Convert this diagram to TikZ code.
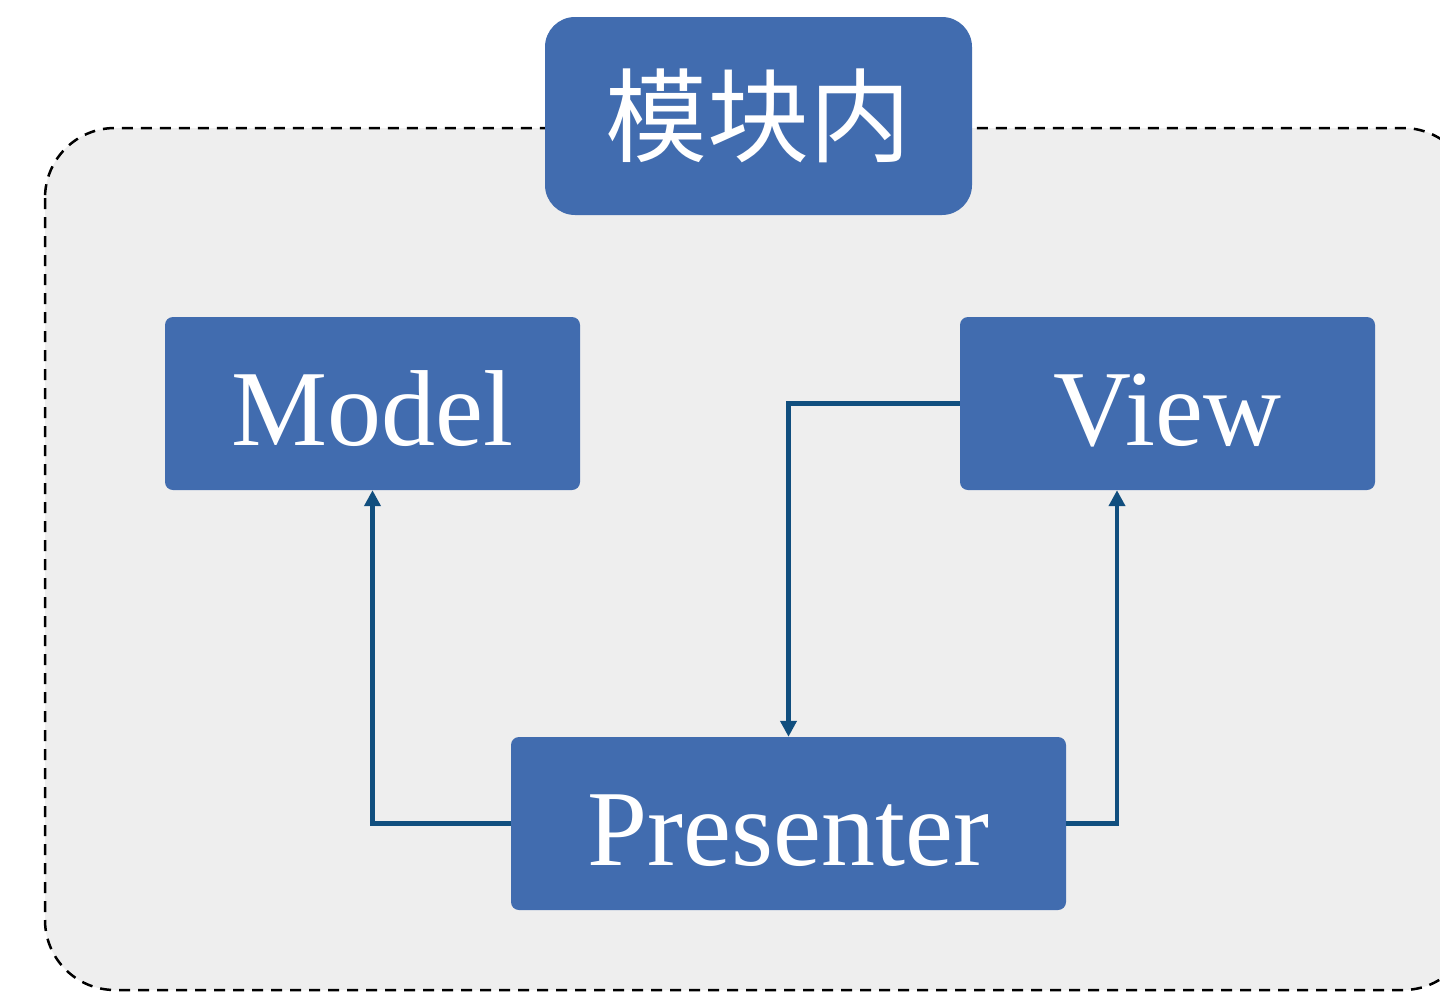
\documentclass[tikz,border=0pt]{standalone}
\usepackage{fontspec}
\setmainfont{Liberation Serif}
\newfontfamily\cjk{Noto Sans CJK SC}
\usetikzlibrary{arrows.meta,calc}
\definecolor{boxblue}{RGB}{65,108,175}
\definecolor{linkblue}{RGB}{16,78,126}
\definecolor{bggray}{RGB}{238,238,238}
\begin{document}
\begin{tikzpicture}[x=1pt,y=-1pt,
  box/.style={fill=boxblue,draw=none,rounded corners=8pt,text=white,
    minimum height=173pt,inner sep=0pt,text height=83pt,text depth=0pt,
    font=\fontsize{108}{110}\selectfont},
  conn/.style={draw=linkblue,line width=4.5pt,-{Triangle[length=16pt,width=16pt]}}]
\useasboundingbox (0,0) rectangle (1440,991);
\clip (0,0) rectangle (1440,991);
\fill[white] (0,0) rectangle (1440,991);
\draw[fill=bggray,dash pattern=on 11pt off 8pt,line width=2.5pt,rounded corners=70pt]
  (45,128) rectangle (1473,990);
\node[fill=boxblue,rounded corners=30pt,minimum width=427pt,minimum height=198pt,inner sep=0pt,
  text=white,font=\cjk\fontsize{102}{104}\selectfont] (title) at (758.5,116) {模块内};
\node[box,minimum width=415pt] (model) at (372.5,403.5) {Model};
\node[box,minimum width=415pt] (view) at (1167.5,403.5) {View};
\node[box,minimum width=555pt] (pres) at (788.5,823.5) {Presenter};
\draw[conn] (pres.west) -| (model.south);
\draw[conn] (view.west) -| (pres.north);
\draw[conn] (pres.east) -| ([xshift=-50.5pt]view.south);
\end{tikzpicture}
\end{document}
